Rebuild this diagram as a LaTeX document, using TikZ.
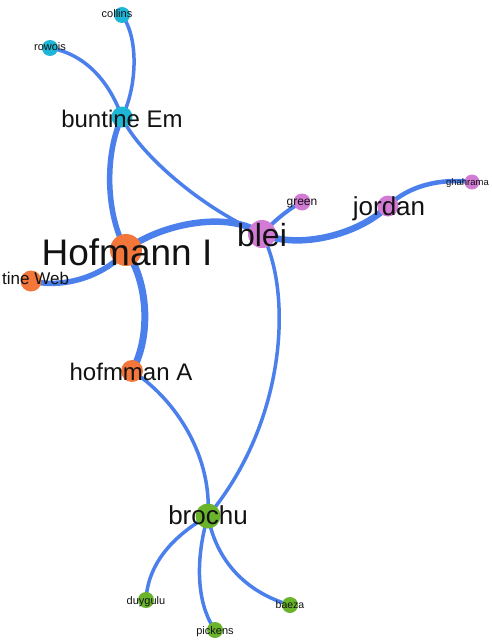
\documentclass[tikz,border=0pt]{standalone}
\usepackage{fontspec}
\setmainfont{Liberation Sans}
\usetikzlibrary{backgrounds}
\definecolor{ecol}{HTML}{4A7FEC}
\definecolor{cyanN}{HTML}{1DB6D6}
\definecolor{pinkN}{HTML}{D27BD4}
\definecolor{orangeN}{HTML}{F3763A}
\definecolor{greenN}{HTML}{6AB42C}
\definecolor{txt}{HTML}{121212}
\tikzset{
  vtx/.style={circle,inner sep=0pt,minimum size=#1},
  vtx/.default=16pt,
  edg/.style={draw=ecol,line width=#1,line cap=round},
  edg/.default=3.5pt,
  lab/.style={inner sep=0pt,anchor=base,text=txt,font=\fontsize{#1}{#1}\selectfont},
  lab/.default=10pt
}
\begin{document}
\begin{tikzpicture}[x=1pt,y=-1pt]
\useasboundingbox (0,0) rectangle (491,642);
% vertices
\node[vtx=16pt,fill=cyanN] (collins) at (122,15) {};
\node[vtx=16pt,fill=cyanN] (rowois) at (50,48) {};
\node[vtx=21pt,fill=cyanN] (bunEm) at (122,117) {};
\node[vtx=17pt,fill=pinkN] (green) at (302,202) {};
\node[vtx=21pt,fill=pinkN] (jordan) at (388,206) {};
\node[vtx=15pt,fill=pinkN] (ghah) at (472,182) {};
\node[vtx=28pt,fill=pinkN] (blei) at (262,234) {};
\node[vtx=32pt,fill=orangeN] (hofI) at (126,250) {};
\node[vtx=21pt,fill=orangeN] (bunWeb) at (31,281) {};
\node[vtx=22pt,fill=orangeN] (hofA) at (132,371) {};
\node[vtx=25pt,fill=greenN] (brochu) at (208,516) {};
\node[vtx=16pt,fill=greenN] (duy) at (146,600) {};
\node[vtx=16pt,fill=greenN] (pick) at (215,630) {};
\node[vtx=16pt,fill=greenN] (baeza) at (290,605) {};
% edges (behind the vertices)
\begin{scope}[on background layer]
\fill[white] (0,0) rectangle (491,642);
\path[edg=3.5pt] (collins.center) .. controls (140,40) and (136,90) .. (bunEm.center);
\path[edg=3.5pt] (rowois.center) .. controls (75,52) and (105,70) .. (bunEm.center);
\path[edg=5.5pt] (bunEm.center) .. controls (104,155) and (106,215) .. (hofI.center);
\path[edg=3.5pt] (bunEm.center) .. controls (135,148) and (195,205) .. (blei.center);
\path[edg=6.5pt] (hofI.center) .. controls (160,224) and (228,210) .. (blei.center);
\path[edg=5.5pt] (hofI.center) .. controls (110,272) and (68,290) .. (bunWeb.center);
\path[edg=7pt] (hofI.center) .. controls (150,285) and (150,340) .. (hofA.center);
\path[edg=3.5pt] (hofA.center) .. controls (170,395) and (212,450) .. (brochu.center);
\path[edg=3.5pt] (blei.center) .. controls (292,290) and (288,420) .. (brochu.center);
\path[edg=6.5pt] (blei.center) .. controls (300,250) and (360,234) .. (jordan.center);
\path[edg=4.5pt] (jordan.center) .. controls (408,186) and (440,178) .. (ghah.center);
\path[edg=4pt] (blei.center) .. controls (275,220) and (290,208) .. (green.center);
\path[edg=3.5pt] (brochu.center) .. controls (175,535) and (148,562) .. (duy.center);
\path[edg=3.5pt] (brochu.center) .. controls (197,552) and (194,600) .. (pick.center);
\path[edg=3.5pt] (brochu.center) .. controls (216,560) and (245,592) .. (baeza.center);
\end{scope}
% labels
\node[lab=11pt] (lcollins) at (117,18) {collins};
\node[lab=11pt] (lrowois) at (50,51) {rowois};
\node[lab=24pt] (lbunEm) at (122,127) {buntine Em};
\node[lab=12pt] (lgreen) at (302,205) {green};
\node[lab=26pt] (ljordan) at (389,215) {jordan};
\node[lab=9.5pt,anchor=base east] (lghah) at (489,185) {ghahrama};
\node[lab=32pt] (lblei) at (262,246) {blei};
\node[lab=37pt] (lhofI) at (127,265) {Hofmann I};
\node[lab=17pt,anchor=base west] (lbunWeb) at (2,284) {tine Web};
\node[lab=24pt] (lhofA) at (131,380) {hofmman A};
\node[lab=26pt] (lbrochu) at (208,524) {brochu};
\node[lab=11pt] (lduy) at (146,604) {duygulu};
\node[lab=11pt] (lpick) at (215,634) {pickens};
\node[lab=10.5pt] (lbaeza) at (290,608) {baeza};
\end{tikzpicture}
\end{document}
